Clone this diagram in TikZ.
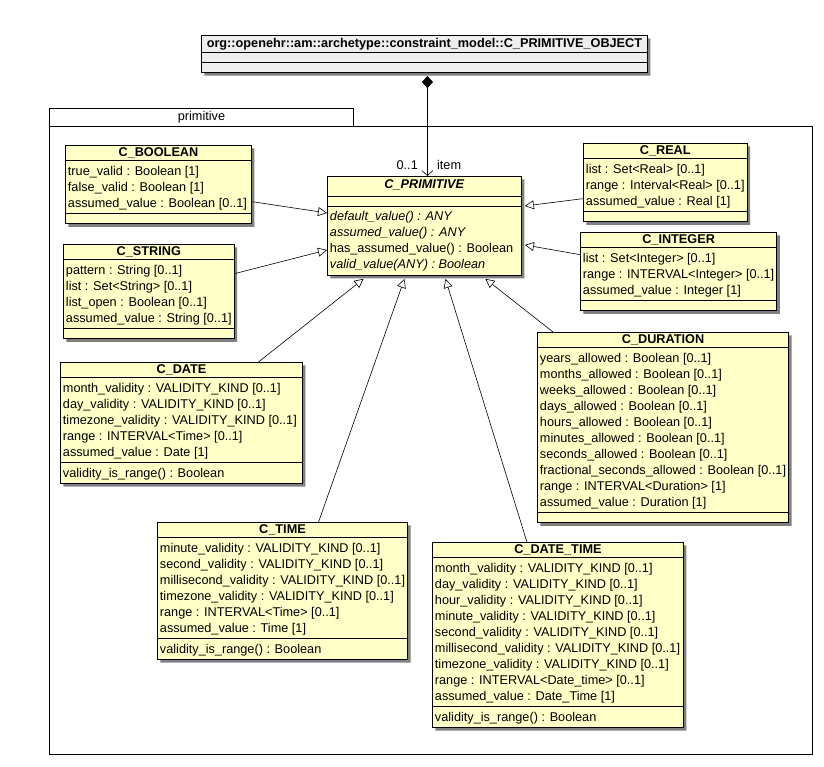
\documentclass[tikz,border=0pt]{standalone}
\usepackage{fontspec}
\setmainfont{Liberation Sans}
\usepackage{xcolor}
\usepackage{tikz}
\usetikzlibrary{shapes.multipart,shadows,arrows.meta}

\definecolor{classfill}{RGB}{255,255,200}
\definecolor{headfill}{RGB}{238,238,238}
% one row of a class compartment
\newcommand{\rs}{\rule[-4pt]{0pt}{16pt}}

\begin{document}
\begin{tikzpicture}[x=1pt, y=-1pt,
  font=\fontsize{12.7}{16}\selectfont,
  umlclass/.style={rectangle split, rectangle split parts=3, draw, line width=0.9pt,
    fill=classfill, anchor=north west, align=left,
    rectangle split part align={center,left,left},
    rectangle split empty part height=3pt, inner xsep=2.5pt, inner ysep=2pt,
    drop shadow={shadow xshift=3pt, shadow yshift=-3pt, fill=black!50, opacity=1}},
  inherit/.style={line width=0.6pt, -{Triangle[open, length=9pt, width=9pt, fill=white]}},
  pkgbox/.style={draw, line width=1pt, anchor=north west, inner sep=0pt}]
  \useasboundingbox (0,0) rectangle (824,766);
  % Package
  \node[pkgbox, minimum width=763pt, minimum height=628pt] (pkg) at (49,126) {};
  \node[pkgbox, minimum width=304pt, minimum height=18pt] (tab) at (49,108) {primitive};
  % Parent class
  \node[umlclass, fill=headfill, minimum width=446pt, rectangle split empty part height=4pt] (top) at (201,35)
    {\textbf{org::openehr::am::archetype::constraint\_model::C\_PRIMITIVE\_OBJECT}\nodepart{second}\nodepart{third}};
  % C_PRIMITIVE
  \node[umlclass, minimum width=194pt] (cprim) at (327,176)
    {\textbf{\textit{C\_PRIMITIVE}}\rule[-5pt]{0pt}{15pt}
     \nodepart{second}
     \nodepart{third}\rs\textit{default\_value() : ANY}\\
     \rs\textit{assumed\_value() : ANY}\\
     \rs has\_assumed\_value() : Boolean\\
     \rs\textit{valid\_value(ANY) : Boolean}};
  % C_BOOLEAN
  \node[umlclass, minimum width=186pt] (bool) at (65,145)
    {\textbf{C\_BOOLEAN}
     \nodepart{second}\rs true\_valid : Boolean [1]\\
     \rs false\_valid : Boolean [1]\\
     \rs assumed\_value : Boolean [0..1]
     \nodepart{third}};
  % C_STRING
  \node[umlclass, minimum width=170pt] (string) at (63,244)
    {\textbf{C\_STRING}
     \nodepart{second}\rs pattern : String [0..1]\\
     \rs list : Set<String> [0..1]\\
     \rs list\_open : Boolean [0..1]\\
     \rs assumed\_value : String [0..1]
     \nodepart{third}};
  % C_REAL
  \node[umlclass, minimum width=162pt] (real) at (583,143)
    {\textbf{C\_REAL}
     \nodepart{second}\rs list : Set<Real> [0..1]\\
     \rs range : Interval<Real> [0..1]\\
     \rs assumed\_value : Real [1]
     \nodepart{third}};
  % C_INTEGER
  \node[umlclass, minimum width=182pt] (int) at (580,232)
    {\textbf{C\_INTEGER}
     \nodepart{second}\rs list : Set<Integer> [0..1]\\
     \rs range : INTERVAL<Integer> [0..1]\\
     \rs assumed\_value : Integer [1]
     \nodepart{third}};
  % C_DATE
  \node[umlclass, minimum width=242pt] (date) at (60,362)
    {\textbf{C\_DATE}
     \nodepart{second}\rs month\_validity : VALIDITY\_KIND [0..1]\\
     \rs day\_validity : VALIDITY\_KIND [0..1]\\
     \rs timezone\_validity : VALIDITY\_KIND [0..1]\\
     \rs range : INTERVAL<Time> [0..1]\\
     \rs assumed\_value : Date [1]
     \nodepart{third}\rs validity\_is\_range() : Boolean};
  % C_DURATION
  \node[umlclass, minimum width=251pt] (dur) at (537,332)
    {\textbf{C\_DURATION}
     \nodepart{second}\rs years\_allowed : Boolean [0..1]\\
     \rs months\_allowed : Boolean [0..1]\\
     \rs weeks\_allowed : Boolean [0..1]\\
     \rs days\_allowed : Boolean [0..1]\\
     \rs hours\_allowed : Boolean [0..1]\\
     \rs minutes\_allowed : Boolean [0..1]\\
     \rs seconds\_allowed : Boolean [0..1]\\
     \rs fractional\_seconds\_allowed : Boolean [0..1]\\
     \rs range : INTERVAL<Duration> [1]\\
     \rs assumed\_value : Duration [1]
     \nodepart{third}};
  % C_TIME
  \node[umlclass, minimum width=248pt] (time) at (157,522)
    {\textbf{C\_TIME}
     \nodepart{second}\rs minute\_validity : VALIDITY\_KIND [0..1]\\
     \rs second\_validity : VALIDITY\_KIND [0..1]\\
     \rs millisecond\_validity : VALIDITY\_KIND [0..1]\\
     \rs timezone\_validity : VALIDITY\_KIND [0..1]\\
     \rs range : INTERVAL<Time> [0..1]\\
     \rs assumed\_value : Time [1]
     \nodepart{third}\rs validity\_is\_range() : Boolean};
  % C_DATE_TIME
  \node[umlclass, minimum width=251pt] (dtime) at (432,542)
    {\textbf{C\_DATE\_TIME}
     \nodepart{second}\rs month\_validity : VALIDITY\_KIND [0..1]\\
     \rs day\_validity : VALIDITY\_KIND [0..1]\\
     \rs hour\_validity : VALIDITY\_KIND [0..1]\\
     \rs minute\_validity : VALIDITY\_KIND [0..1]\\
     \rs second\_validity : VALIDITY\_KIND [0..1]\\
     \rs millisecond\_validity : VALIDITY\_KIND [0..1]\\
     \rs timezone\_validity : VALIDITY\_KIND [0..1]\\
     \rs range : INTERVAL<Date\_time> [0..1]\\
     \rs assumed\_value : Date\_Time [1]
     \nodepart{third}\rs validity\_is\_range() : Boolean};
  % Composition
  \draw[line width=0.6pt, {Diamond[length=12pt, width=11pt]}-{Straight Barb[length=5pt, width=11pt]}]
    ([xshift=3pt, yshift=-3pt]top.south) -- ([xshift=3pt]cprim.north)
    node[pos=0.89, left=6pt] (mult) {0..1}
    node[pos=0.89, right=6pt] (role) {item};
  % Generalisations
  \draw[inherit] ([yshift=-17pt]bool.east) -- ([yshift=13pt]cprim.west);
  \draw[inherit] ([yshift=18pt]string.east) -- ([yshift=-24pt]cprim.west);
  \draw[inherit] ([yshift=-16pt]real.west) -- ([xshift=3pt, yshift=20pt]cprim.east);
  \draw[inherit] ([yshift=17pt]int.west) -- ([xshift=3pt, yshift=-19pt]cprim.east);
  \draw[inherit] ([xshift=77pt]date.north) -- ([xshift=-61pt, yshift=-3pt]cprim.south);
  \draw[inherit] ([xshift=36pt]time.north) -- ([xshift=-20pt, yshift=-3pt]cprim.south);
  \draw[inherit] ([xshift=-31pt]dtime.north) -- ([xshift=21pt, yshift=-3pt]cprim.south);
  \draw[inherit] ([xshift=-110pt]dur.north) -- ([xshift=61pt, yshift=-3pt]cprim.south);
\end{tikzpicture}
\end{document}
